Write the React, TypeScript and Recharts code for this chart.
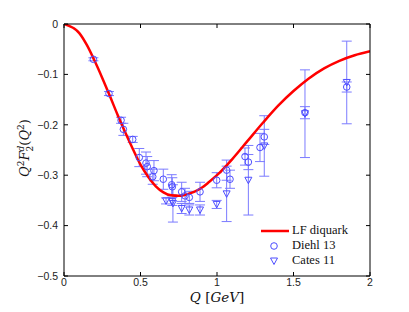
import React from 'react';
import {
  ComposedChart,
  ErrorBar,
  Line,
  Scatter,
  XAxis,
  YAxis,
} from 'recharts';

// LF diquark model curve
const curveQ = [0, 0.1, 0.15, 0.2, 0.25, 0.3, 0.35, 0.4, 0.45, 0.5, 0.55, 0.6, 0.65, 0.7, 0.75, 0.8, 0.85, 0.9, 0.95, 1.0, 1.1, 1.2, 1.3, 1.4, 1.5, 1.6, 1.7, 1.8, 1.9, 2.0];
const curveF = [0, -0.018, -0.042, -0.073, -0.107, -0.143, -0.18, -0.215, -0.248, -0.279, -0.303, -0.322, -0.334, -0.34, -0.341, -0.338, -0.333, -0.325, -0.313, -0.3, -0.268, -0.232, -0.196, -0.162, -0.133, -0.108, -0.088, -0.073, -0.062, -0.054];

// Diehl 13 (circles)
const diehlQ = [0.192, 0.294, 0.373, 0.388, 0.449, 0.492, 0.536, 0.544, 0.588, 0.58, 0.649, 0.704, 0.708, 0.769, 0.791, 0.819, 0.889, 0.998, 1.063, 1.085, 1.183, 1.205, 1.281, 1.309, 1.575, 1.848];
const diehlF = [-0.07, -0.138, -0.191, -0.209, -0.229, -0.265, -0.276, -0.283, -0.291, -0.303, -0.308, -0.319, -0.323, -0.333, -0.341, -0.344, -0.333, -0.31, -0.29, -0.308, -0.263, -0.274, -0.245, -0.224, -0.176, -0.125];
const diehlErr = [0.003, 0.004, 0.006, 0.012, 0.006, 0.018, 0.022, 0.02, 0.02, 0.015, 0.02, 0.02, 0.018, 0.019, 0.015, 0.012, 0.019, 0.015, 0.02, 0.018, 0.017, 0.015, 0.028, 0.015, 0.012, 0.01];

// Cates 11 (down triangles)
const catesQ = [0.667, 0.708, 0.712, 0.769, 0.819, 0.889, 0.998, 1.063, 1.205, 1.309, 1.575, 1.848];
const catesF = [-0.351, -0.352, -0.356, -0.366, -0.369, -0.369, -0.358, -0.337, -0.31, -0.242, -0.178, -0.116];
const catesErr = [0.006, 0.008, 0.037, 0.01, 0.01, 0.01, 0.008, 0.055, 0.069, 0.06, 0.087, 0.082];

const xTicks = [0, 0.5, 1, 1.5, 2];
const yTicks = [0, -0.1, -0.2, -0.3, -0.4, -0.5];

const curve = curveQ.map((q, i) => ({ q, f: curveF[i] }));
const diehl = diehlQ.map((q, i) => ({ q, f: diehlF[i], e: diehlErr[i] }));
const cates = catesQ.map((q, i) => ({ q, f: catesF[i], e: catesErr[i] }));

const MARK = '#4d4dff';
const BAR = '#7b7bff';
const tickFont = { fontSize: 10.5, fontFamily: 'Liberation Sans, Arial, sans-serif', fill: '#222' };
const fmt = (v: number) => (v < 0 ? '\u2212' + String(Math.abs(v)) : String(v));

const Circle = (p: any) => (
  <circle cx={p.cx} cy={p.cy} r={3.3} fill="none" stroke={MARK} strokeWidth={1} />
);
const Tri = (p: any) => (
  <path
    d={`M${p.cx - 3.5},${p.cy - 3} L${p.cx + 3.5},${p.cy - 3} L${p.cx},${p.cy + 3.5} Z`}
    fill="none"
    stroke={MARK}
    strokeWidth={1}
  />
);

export default function App() {
  return (
    <div style={{ position: 'absolute', left: 0, top: 0, width: 409, height: 312, background: '#fff' }}>
      <ComposedChart width={409} height={312} margin={{ top: 23, right: 38, bottom: 0, left: 0 }}>
        <XAxis
          dataKey="q"
          type="number"
          domain={[0, 2]}
          ticks={xTicks}
          height={36}
          tickSize={-4}
          tickMargin={7}
          tick={tickFont}
          stroke="#000"
          allowDataOverflow
        />
        <XAxis
          xAxisId="top"
          dataKey="q"
          orientation="top"
          type="number"
          domain={[0, 2]}
          ticks={xTicks}
          height={1}
          tickSize={-4}
          tickFormatter={() => ''}
          stroke="#000"
          allowDataOverflow
        />
        <YAxis
          dataKey="f"
          type="number"
          domain={[-0.5, 0]}
          ticks={yTicks}
          width={64}
          tickSize={-4}
          tickMargin={10}
          tick={tickFont}
          tickFormatter={fmt}
          stroke="#000"
          allowDataOverflow
        />
        <YAxis
          yAxisId="right"
          dataKey="f"
          orientation="right"
          type="number"
          domain={[-0.5, 0]}
          ticks={yTicks}
          width={1}
          tickSize={-4}
          tickFormatter={() => ''}
          stroke="#000"
          allowDataOverflow
        />
        {/* invisible copy of the curve so the top/right frame axes get a scale */}
        <Line
          data={curve}
          dataKey="f"
          xAxisId="top"
          yAxisId="right"
          stroke="none"
          dot={false}
          isAnimationActive={false}
        />
        <Scatter data={diehl} dataKey="f" shape={Circle} isAnimationActive={false}>
          <ErrorBar dataKey="e" direction="y" width={5} stroke={BAR} strokeWidth={1} />
        </Scatter>
        <Scatter data={cates} dataKey="f" shape={Tri} isAnimationActive={false}>
          <ErrorBar dataKey="e" direction="y" width={5} stroke={BAR} strokeWidth={1} />
        </Scatter>
        <Line
          data={curve}
          dataKey="f"
          type="monotone"
          stroke="#ff0000"
          strokeWidth={2.5}
          dot={false}
          isAnimationActive={false}
        />
      </ComposedChart>

      {/* y axis title */}
      <div
        style={{
          position: 'absolute',
          left: 25,
          top: 148,
          transform: 'translate(-50%, -50%) rotate(-90deg)',
          fontFamily: 'DejaVu Serif, Liberation Serif, serif',
          fontSize: 13,
          whiteSpace: 'nowrap',
          color: '#111',
        }}
      >
        <i>Q</i>
        <sup style={{ fontSize: 9 }}>2</sup>
        <i>F</i>
        <span style={{ display: 'inline-flex', flexDirection: 'column', fontSize: 9, lineHeight: '9px', verticalAlign: 'middle' }}>
          <i>d</i>
          <span>2</span>
        </span>
        (<i>Q</i>
        <sup style={{ fontSize: 9 }}>2</sup>)
      </div>

      {/* x axis title */}
      <div
        style={{
          position: 'absolute',
          left: 217,
          top: 297,
          transform: 'translate(-50%, -50%)',
          fontFamily: 'DejaVu Serif, Liberation Serif, serif',
          fontSize: 13.5,
          lineHeight: '15px',
          whiteSpace: 'nowrap',
          color: '#111',
        }}
      >
        <i>Q</i> [<i>GeV</i>]
      </div>

      {/* legend */}
      <div
        style={{
          position: 'absolute',
          left: 260,
          top: 223,
          fontFamily: 'Liberation Serif, DejaVu Serif, serif',
          fontSize: 12.5,
          lineHeight: '15px',
          color: '#111',
        }}
      >
        <div style={{ display: 'flex', alignItems: 'center' }}>
          <svg width={32} height={15}>
            <line x1={1} y1={8} x2={29} y2={8} stroke="#ff0000" strokeWidth={2.5} />
          </svg>
          <span>LF diquark</span>
        </div>
        <div style={{ display: 'flex', alignItems: 'center' }}>
          <svg width={32} height={15}>
            <circle cx={14} cy={8} r={3.3} fill="none" stroke={MARK} />
          </svg>
          <span>Diehl 13</span>
        </div>
        <div style={{ display: 'flex', alignItems: 'center' }}>
          <svg width={32} height={15}>
            <path d="M10.5,5 L17.5,5 L14,11.5 Z" fill="none" stroke={MARK} />
          </svg>
          <span>Cates 11</span>
        </div>
      </div>
    </div>
  );
}
